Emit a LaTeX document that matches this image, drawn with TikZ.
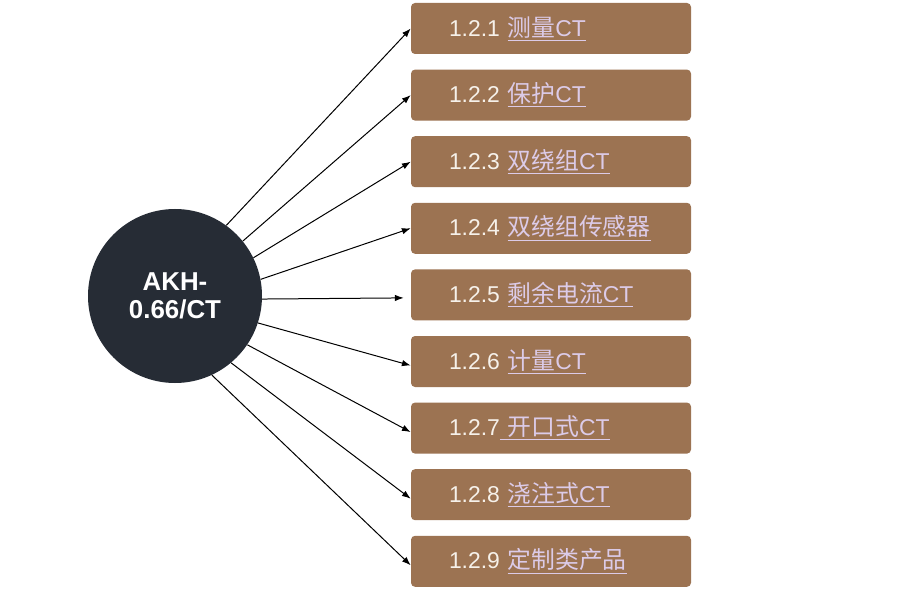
\documentclass[tikz,border=0pt]{standalone}
\usepackage{fontspec}
\setmainfont{Liberation Sans}
\newfontfamily\cjk[Scale=1.04]{Noto Sans CJK SC}
\usetikzlibrary{arrows.meta}
\definecolor{hubgray}{HTML}{262C35}
\definecolor{boxbrown}{HTML}{9C7352}
\definecolor{linklilac}{HTML}{DCCBE8}
\definecolor{numwhite}{HTML}{F6F1EA}
\newcommand{\lnk}[1]{{\color{linklilac}\underline{#1}}}
\tikzset{
  itembox/.style={fill=boxbrown, rounded corners=0.1cm, minimum width=7cm,
    minimum height=1.275cm, text width=5.1cm, align=left, inner xsep=0.95cm,
    text=numwhite, font=\fontsize{16.3}{19}\selectfont},
  hub/.style={circle, fill=hubgray, minimum size=4.35cm, inner sep=0pt,
    text=white, align=center, font=\bfseries\fontsize{18.4}{20.4}\selectfont},
  link/.style={line width=0.025cm, -{Latex[length=0.22cm,width=0.16cm]}}
}
\begin{document}
\begin{tikzpicture}
                \fill [white] (0,0) rectangle (23.100000,14.775000);
                \useasboundingbox (0,0) rectangle (23.100000,14.775000);

                % Marking the hub circle
                \node [hub] (hub) at (4.375000,7.375000) {AKH-\\0.66/CT};

                % Marking boxes b1 ... b9
                \node [itembox] (b1) at (13.775000,14.062500) {1.2.1 \lnk{{\cjk 测量}CT}};
                \node [itembox] (b2) at (13.775000,12.397500) {1.2.2 \lnk{{\cjk 保护}CT}};
                \node [itembox] (b3) at (13.775000,10.732500) {1.2.3 \lnk{{\cjk 双绕组}CT}};
                \node [itembox] (b4) at (13.775000,9.067500) {1.2.4 \lnk{{\cjk 双绕组传感器}}};
                \node [itembox] (b5) at (13.775000,7.402500) {1.2.5 \lnk{{\cjk 剩余电流}CT}};
                \node [itembox] (b6) at (13.775000,5.737500) {1.2.6 \lnk{{\cjk 计量}CT}};
                \node [itembox] (b7) at (13.775000,4.072500) {1.2.7\lnk{ {\cjk 开口式}CT}};
                \node [itembox] (b8) at (13.775000,2.407500) {1.2.8 \lnk{{\cjk 浇注式}CT}};
                \node [itembox] (b9) at (13.775000,0.742500) {1.2.9 \lnk{{\cjk 定制类产品}}};

                % Drawing arrows hub -> boxes
                \draw [link] (hub.54) -- (b1.west);%
                \draw [link] (hub.39) -- (b2.west);%
                \draw [link] (hub.26) -- (b3.west);%
                \draw [link] (hub.11) -- (b4.west);%
                \draw [link] (hub.-2) -- ([xshift=-0.175cm,yshift=-0.075cm]b5.west);%
                \draw [link] (hub.-18) -- ([yshift=-0.1cm]b6.west);%
                \draw [link] (hub.-34) -- ([yshift=-0.1cm]b7.west);%
                \draw [link] (hub.-50) -- ([yshift=-0.1cm]b8.west);%
                \draw [link] (hub.-65) -- ([yshift=-0.1cm]b9.west);%
\end{tikzpicture}
\end{document}
